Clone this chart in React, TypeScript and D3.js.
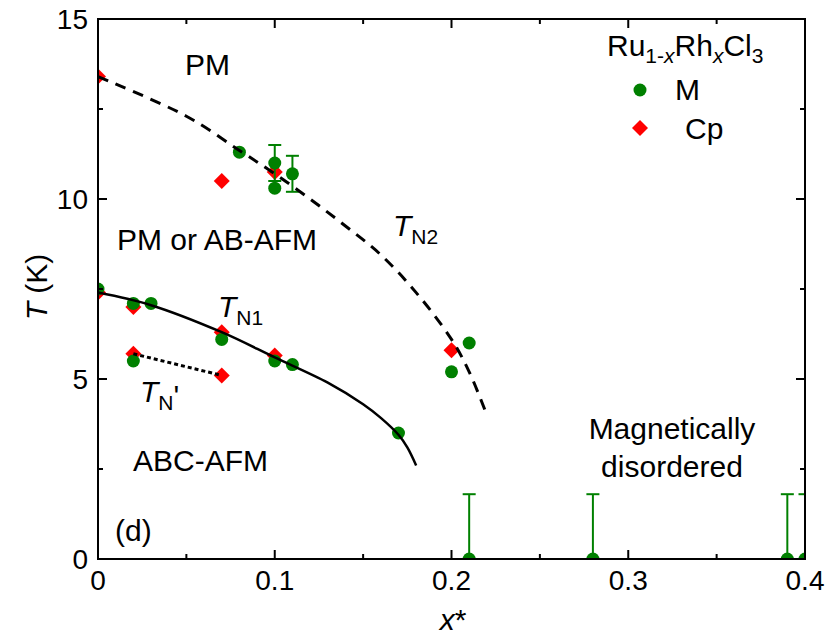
import React, { useEffect, useRef } from 'react'
import * as d3 from 'd3'

// magnetization (M) points: [x*, T]
const mPoints: [number, number][] = [
  [0, 7.5], [0.02, 7.1], [0.03, 7.1], [0.07, 6.1], [0.1, 5.5], [0.11, 5.4], [0.17, 3.5],
  [0.02, 5.5], [0.08, 11.3], [0.1, 11.0], [0.1, 10.3], [0.11, 10.7], [0.2, 5.2], [0.21, 6.0],
  [0.21, 0], [0.28, 0], [0.39, 0], [0.4, 0],
]
// error bars on M points: [x*, T, minus, plus]
const mErrors: [number, number, number, number][] = [
  [0.1, 11.0, 0.5, 0.5], [0.11, 10.7, 0.5, 0.5],
  [0.21, 0, 0, 1.8], [0.28, 0, 0, 1.8], [0.39, 0, 0, 1.8], [0.4, 0, 0, 1.8],
]
// specific heat (Cp) points
const cpPoints: [number, number][] = [
  [0, 13.4], [0, 7.4], [0.02, 7.0], [0.02, 5.7], [0.07, 10.5], [0.07, 6.3], [0.07, 5.1],
  [0.1, 10.75], [0.1, 5.65], [0.2, 5.8],
]
// guide lines
const tn2Line: [number, number][] = [
  [0, 13.4], [0.05, 12.3], [0.08, 11.35], [0.1, 10.7], [0.12, 10.0], [0.14, 9.25],
  [0.16, 8.45], [0.18, 7.4], [0.2, 6.1], [0.21, 5.2], [0.22, 4.0],
]
const tn1Line: [number, number][] = [
  [0, 7.4], [0.03, 7.05], [0.07, 6.3], [0.1, 5.6], [0.13, 4.9], [0.15, 4.3], [0.16, 3.92],
  [0.17, 3.45], [0.175, 3.1], [0.18, 2.6],
]
const tnPrimeLine: [number, number][] = [[0.02, 5.7], [0.07, 5.1]]

const xMajor = [0, 0.1, 0.2, 0.3, 0.4]
const xMinor = [0.05, 0.15, 0.25, 0.35]
const yMajor = [0, 5, 10, 15]
const yMinor = [2.5, 7.5, 12.5]

const GREEN = '#008000'
const RED = '#ff0000'
const FONT = 'Liberation Sans, Arial, sans-serif'

const App = () => {
  const ref = useRef<SVGSVGElement | null>(null)

  useEffect(() => {
    const width = 830
    const height = 636
    const left = 98
    const right = 805
    const top = 19
    const bottom = 559

    const svg = d3.select(ref.current)
    svg.selectAll('*').remove()

    const x = d3.scaleLinear().domain([0, 0.4]).range([left, right])
    const y = d3.scaleLinear().domain([0, 15]).range([bottom, top])

    svg.append('rect').attr('width', width).attr('height', height).attr('fill', '#fff')

    svg
      .append('clipPath')
      .attr('id', 'plot-clip')
      .append('rect')
      .attr('x', left)
      .attr('y', top)
      .attr('width', right - left)
      .attr('height', bottom - top)

    const plot = svg.append('g').attr('clip-path', 'url(#plot-clip)')

    // Cp diamonds
    const diamond = d3.symbol().type(d3.symbolSquare).size(128)
    plot
      .selectAll('path.cp')
      .data(cpPoints)
      .enter()
      .append('path')
      .attr('class', 'cp')
      .attr('d', diamond())
      .attr('transform', (d) => `translate(${x(d[0])},${y(d[1])}) rotate(45)`)
      .attr('fill', RED)

    // error bars
    const cap = 6.5
    mErrors.forEach(([ex, et, lo, hi]) => {
      const g = plot.append('g').attr('stroke', GREEN).attr('stroke-width', 2)
      g.append('line').attr('x1', x(ex)).attr('x2', x(ex)).attr('y1', y(et - lo)).attr('y2', y(et + hi))
      g.append('line').attr('x1', x(ex) - cap).attr('x2', x(ex) + cap).attr('y1', y(et + hi)).attr('y2', y(et + hi))
      if (lo > 0) {
        g.append('line').attr('x1', x(ex) - cap).attr('x2', x(ex) + cap).attr('y1', y(et - lo)).attr('y2', y(et - lo))
      }
    })

    // M circles
    plot
      .selectAll('circle.m')
      .data(mPoints)
      .enter()
      .append('circle')
      .attr('class', 'm')
      .attr('cx', (d) => x(d[0]))
      .attr('cy', (d) => y(d[1]))
      .attr('r', 6.5)
      .attr('fill', GREEN)

    const line = d3
      .line<[number, number]>()
      .x((d) => x(d[0]))
      .y((d) => y(d[1]))
      .curve(d3.curveCatmullRom.alpha(0.5))

    plot.append('path').attr('d', line(tn2Line)).attr('fill', 'none').attr('stroke', '#000')
      .attr('stroke-width', 3).attr('stroke-dasharray', '11,8')
    plot.append('path').attr('d', line(tn1Line)).attr('fill', 'none').attr('stroke', '#000')
      .attr('stroke-width', 2.5)
    plot.append('path').attr('d', d3.line<[number, number]>().x((d) => x(d[0])).y((d) => y(d[1]))(tnPrimeLine))
      .attr('fill', 'none').attr('stroke', '#000').attr('stroke-width', 3).attr('stroke-dasharray', '4,3')

    // frame and ticks
    const axes = svg.append('g').attr('stroke', '#000').attr('stroke-width', 2)
    axes.append('rect').attr('x', left).attr('y', top).attr('width', right - left).attr('height', bottom - top)
      .attr('fill', 'none')
    const tick = (vals: number[], len: number) => {
      vals.forEach((v) => {
        axes.append('line').attr('x1', x(v)).attr('x2', x(v)).attr('y1', bottom).attr('y2', bottom - len)
        axes.append('line').attr('x1', x(v)).attr('x2', x(v)).attr('y1', top).attr('y2', top + len)
      })
    }
    const ytick = (vals: number[], len: number) => {
      vals.forEach((v) => {
        axes.append('line').attr('x1', left).attr('x2', left + len).attr('y1', y(v)).attr('y2', y(v))
        axes.append('line').attr('x1', right).attr('x2', right - len).attr('y1', y(v)).attr('y2', y(v))
      })
    }
    tick(xMajor, 9)
    tick(xMinor, 5)
    ytick(yMajor, 9)
    ytick(yMinor, 5)

    const labels = svg.append('g').attr('font-family', FONT).attr('fill', '#000')

    labels.selectAll('text.xt').data(xMajor).enter().append('text')
      .attr('x', (d) => x(d)).attr('y', 590).attr('text-anchor', 'middle').attr('font-size', 28)
      .text((d) => d3.format('')(d))
    labels.selectAll('text.yt').data(yMajor).enter().append('text')
      .attr('x', 88).attr('y', (d) => y(d) + 10).attr('text-anchor', 'end').attr('font-size', 28)
      .text((d) => String(d))

    // axis titles
    const xt = labels.append('text').attr('x', 453).attr('y', 630).attr('text-anchor', 'middle').attr('font-size', 30)
    xt.append('tspan').attr('font-style', 'italic').text('x')
    xt.append('tspan').text('*')

    const yt = labels.append('text').attr('transform', 'translate(47,287) rotate(-90)')
      .attr('text-anchor', 'middle').attr('font-size', 30)
    yt.append('tspan').attr('font-style', 'italic').text('T')
    yt.append('tspan').text(' (K)')

    const plain = (tx: number, ty: number, s: string, anchor = 'start') =>
      labels.append('text').attr('x', tx).attr('y', ty).attr('font-size', 30).attr('text-anchor', anchor).text(s)

    plain(185, 75, 'PM')
    plain(117, 250, 'PM or AB-AFM')
    plain(133, 471, 'ABC-AFM')
    plain(672, 439, 'Magnetically', 'middle')
    plain(672, 477, 'disordered', 'middle')
    plain(115, 541, '(d)')

    const tn = (tx: number, ty: number, sub: string) => {
      const t = labels.append('text').attr('x', tx).attr('y', ty).attr('font-size', 30)
      t.append('tspan').attr('font-style', 'italic').text('T')
      t.append('tspan').attr('font-size', 21).attr('dy', 8).text(sub)
      return t
    }
    tn(218, 317, 'N1')
    tn(393, 236, 'N2')
    const tp = tn(140, 402, 'N')
    tp.append('tspan').attr('dy', -4).text("'")

    // legend
    const title = labels.append('text').attr('x', 607).attr('y', 56).attr('font-size', 30)
    title.append('tspan').text('Ru')
    title.append('tspan').attr('font-size', 21).attr('dy', 7).text('1-')
    title.append('tspan').attr('font-size', 21).attr('font-style', 'italic').text('x')
    title.append('tspan').attr('dy', -7).text('Rh')
    title.append('tspan').attr('font-size', 21).attr('font-style', 'italic').attr('dy', 7).text('x')
    title.append('tspan').attr('dy', -7).text('Cl')
    title.append('tspan').attr('font-size', 21).attr('dy', 7).text('3')

    svg.append('circle').attr('cx', 640).attr('cy', 90).attr('r', 6.5).attr('fill', GREEN)
    plain(675, 100, 'M')
    svg.append('path').attr('d', diamond()).attr('transform', 'translate(640,128) rotate(45)').attr('fill', RED)
    plain(685, 139, 'Cp')

    return () => {
      svg.selectAll('*').remove()
    }
  }, [])

  return (
    <div style={{ position: 'absolute', left: 0, top: 0 }}>
      <svg ref={ref} width={830} height={636} style={{ display: 'block' }} />
    </div>
  )
}

export default App
